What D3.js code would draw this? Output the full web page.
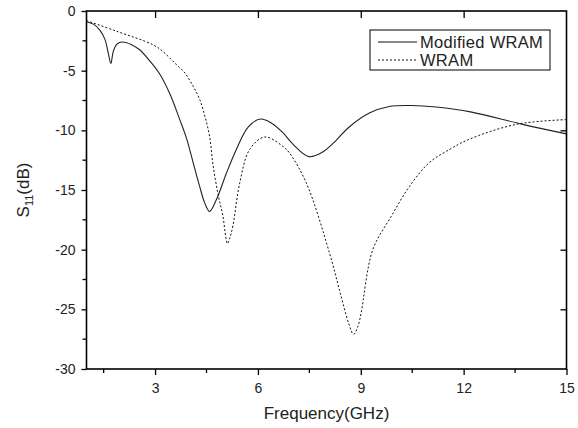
<!DOCTYPE html>
<html><head><meta charset="utf-8">
<script src="https://cdn.jsdelivr.net/npm/d3@7"></script>
<style>body{margin:0;background:#fff}svg{display:block}</style>
</head><body>
<svg id="c" width="578" height="428"></svg>
<script>
const xTicks = [3, 6, 9, 12, 15];
const yTicks = [0, -5, -10, -15, -20, -25, -30];
const seriesNames = ["Modified WRAM", "WRAM"];

const freqMod = [1, 1.2, 1.39, 1.54, 1.64, 1.71, 1.78, 1.88, 2.02, 2.3, 2.55, 2.85, 3.14, 3.44, 3.72, 3.92, 4.11, 4.3, 4.45, 4.59, 4.79, 5.08, 5.37, 5.72, 6.08, 6.4, 6.73, 7.0, 7.49, 7.9, 8.19, 8.67, 9.25, 9.83, 10.5, 11.2, 12.2, 13.72, 15];
const sMod = [-0.9, -1.1, -1.6, -2.4, -3.6, -4.4, -3.4, -2.8, -2.6, -2.8, -3.25, -4.2, -5.3, -7.0, -9.1, -10.7, -12.7, -14.7, -16.1, -16.8, -15.8, -13.6, -11.6, -9.7, -9.05, -9.4, -10.2, -11.1, -12.2, -11.8, -11.1, -9.7, -8.55, -8.0, -7.92, -8.05, -8.45, -9.5, -10.3];

const freqW = [1, 1.88, 2.94, 3.23, 3.57, 3.87, 4.11, 4.3, 4.45, 4.59, 4.69, 4.84, 4.98, 5.06, 5.11, 5.17, 5.27, 5.47, 5.76, 6.2, 6.73, 6.92, 7.41, 8.09, 8.38, 8.65, 8.79, 8.92, 9.01, 9.35, 9.89, 10.42, 11.0, 11.59, 12.12, 13.53, 15];
const sW = [-0.8, -1.7, -2.83, -3.4, -4.35, -5.2, -6.3, -7.4, -8.8, -10.5, -12.9, -15.4, -17.2, -18.9, -19.5, -19.1, -18.0, -14.4, -11.6, -10.56, -11.35, -11.9, -14.4, -20.3, -23.4, -26.2, -27.1, -26.4, -25.3, -20.0, -17.2, -14.7, -12.7, -11.6, -10.8, -9.5, -9.1];

const svg = d3.select("#c");
const L = 86.5, R = 566.5, T = 11, B = 369;
const x = d3.scaleLinear().domain([1, 15]).range([L, R]);
const y = d3.scaleLinear().domain([-30, 0]).range([B, T]);
const font = "'Liberation Sans', Arial, sans-serif";
const fmt = d => String(d);

// curves
const line = d3.line().x(d => x(d[0])).y(d => y(d[1])).curve(d3.curveCatmullRom.alpha(0.5));
const modData = freqMod.map((f, i) => [f, sMod[i]]);
const wData = freqW.map((f, i) => [f, sW[i]]);
svg.append("clipPath").attr("id", "clp").append("rect")
  .attr("x", L).attr("y", T).attr("width", R - L).attr("height", B - T);
svg.append("path").datum(modData).attr("d", line).attr("fill", "none")
  .attr("stroke", "#222").attr("stroke-width", 1.1).attr("clip-path", "url(#clp)");
svg.append("path").datum(wData).attr("d", line).attr("fill", "none")
  .attr("stroke", "#111").attr("stroke-width", 1).attr("stroke-dasharray", "2,2").attr("clip-path", "url(#clp)");

// axes
const minorX = d3.range(1.5, 15, 3);
const minorY = d3.range(-2.5, -30, -5);
const gB = svg.append("g").attr("transform", `translate(0,${B})`);
gB.call(d3.axisBottom(x).tickValues(xTicks).tickSize(6).tickPadding(8).tickFormat(fmt));
gB.selectAll(".minor").data(minorX).enter().append("line").attr("x1", d => x(d)).attr("x2", d => x(d)).attr("y1", 0).attr("y2", 4).attr("stroke", "#000").attr("stroke-width", 1.3);
const gL = svg.append("g").attr("transform", `translate(${L},0)`);
gL.call(d3.axisLeft(y).tickValues(yTicks).tickSize(5).tickPadding(6).tickFormat(fmt));
gL.selectAll(".minor").data(minorY).enter().append("line").attr("y1", d => y(d)).attr("y2", d => y(d)).attr("x1", 0).attr("x2", -4).attr("stroke", "#000").attr("stroke-width", 1.3);
const gT = svg.append("g").attr("transform", `translate(0,${T})`);
gT.call(d3.axisBottom(x).tickValues(xTicks.slice(0, 4)).tickSize(7).tickFormat(""));
const gR = svg.append("g").attr("transform", `translate(${R},0)`);
gR.call(d3.axisLeft(y).tickValues([-10, -15, -20, -25]).tickSize(6).tickFormat(""));
[gB, gL, gT, gR].forEach(g => {
  g.select(".domain").remove();
  g.selectAll(".tick line").attr("stroke", "#000").attr("stroke-width", 1.3);
  g.selectAll("text").attr("font-family", font).attr("font-size", 14).attr("fill", "#222");
});
svg.append("rect").attr("x", L).attr("y", T).attr("width", R - L).attr("height", B - T)
  .attr("fill", "none").attr("stroke", "#000").attr("stroke-width", 1.6);

// titles
svg.append("text").attr("x", (L + R) / 2).attr("y", 419).attr("text-anchor", "middle")
  .attr("font-family", font).attr("font-size", 17).attr("fill", "#222").text("Frequency(GHz)");
const yt = svg.append("text").attr("transform", `translate(29,${(T + B) / 2}) rotate(-90)`)
  .attr("text-anchor", "middle").attr("font-family", font).attr("font-size", 17).attr("fill", "#222");
yt.append("tspan").text("S");
yt.append("tspan").attr("font-size", 11).attr("dy", 4).text("11");
yt.append("tspan").attr("dy", -4).text("(dB)");

// legend
svg.append("rect").attr("x", 370).attr("y", 30).attr("width", 180).attr("height", 40)
  .attr("fill", "#fff").attr("stroke", "#000").attr("stroke-width", 1);
const rows = [{n: seriesNames[0], dash: null, cy: 42}, {n: seriesNames[1], dash: "2,2", cy: 60}];
rows.forEach(r => {
  svg.append("line").attr("x1", 378).attr("x2", 417).attr("y1", r.cy).attr("y2", r.cy)
    .attr("stroke", "#111").attr("stroke-width", 1).attr("stroke-dasharray", r.dash);
  svg.append("text").attr("x", 420).attr("y", r.cy + 6).attr("font-family", font).attr("font-size", 16.5)
    .attr("letter-spacing", 0.3).attr("fill", "#222").text(r.n);
});
</script>
</body></html>
